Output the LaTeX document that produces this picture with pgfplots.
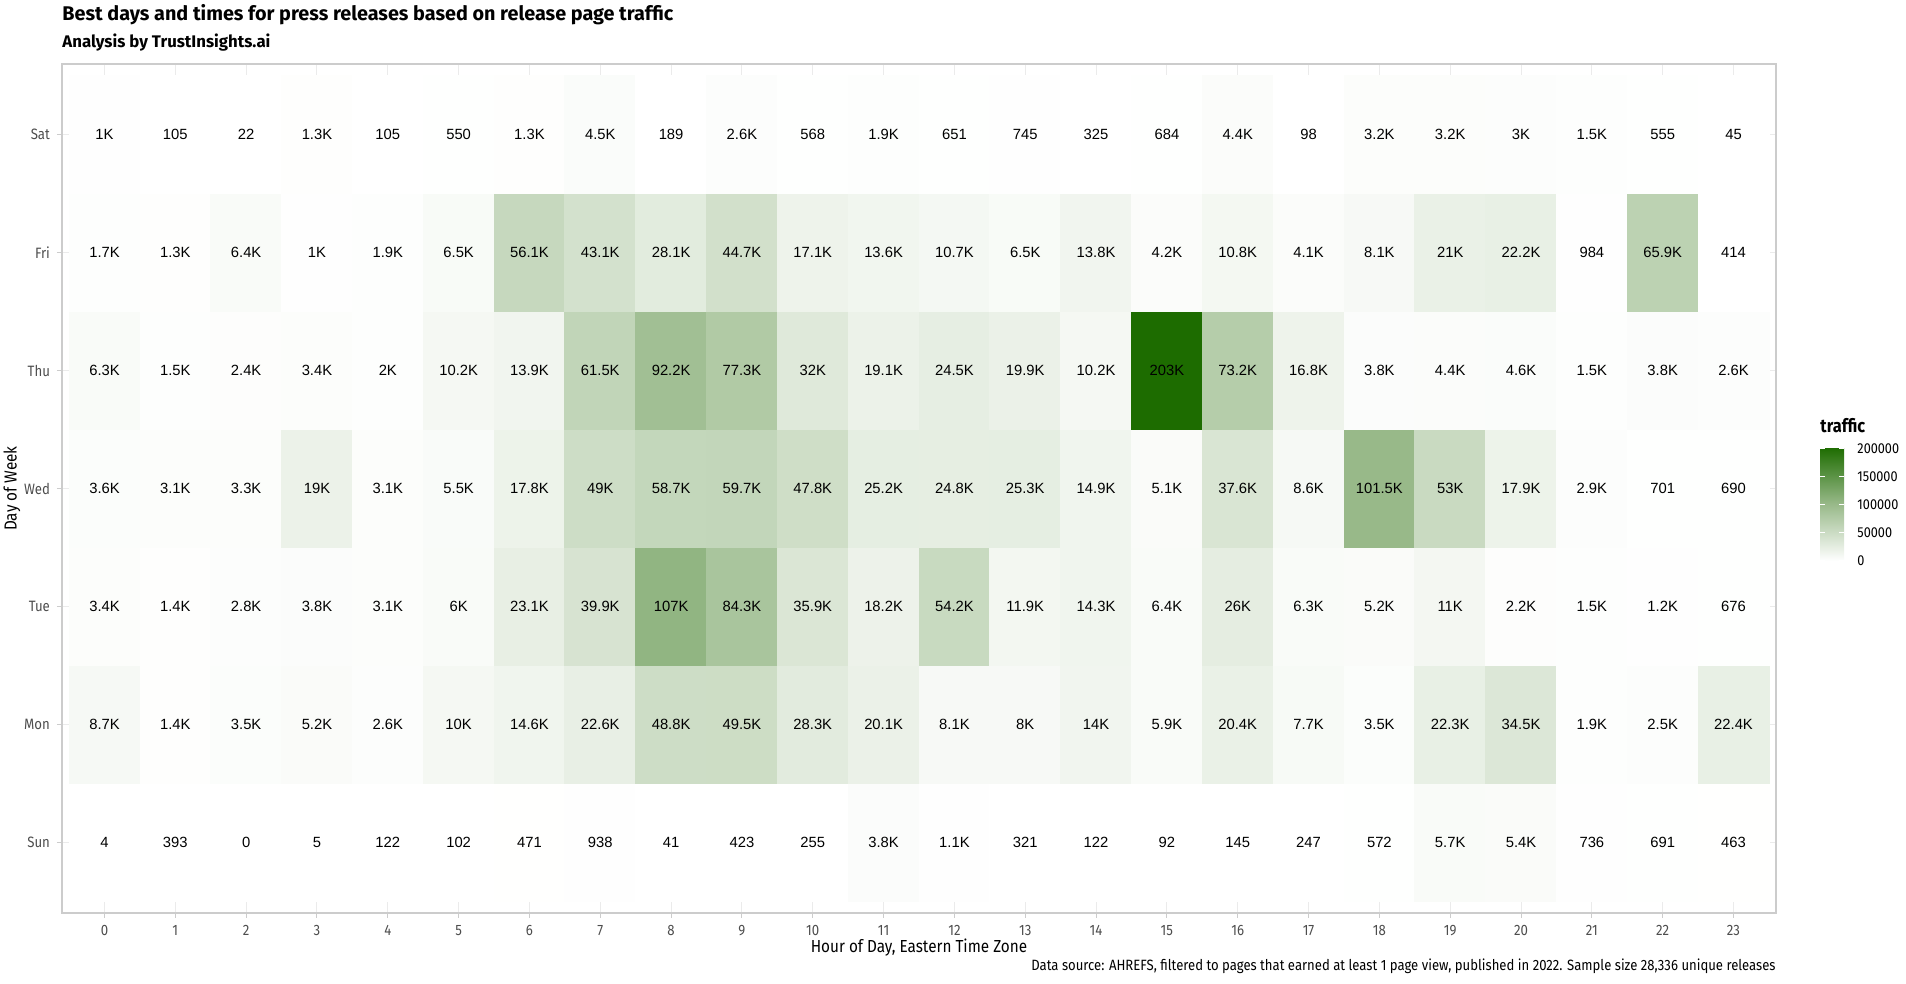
\documentclass[border=0pt]{standalone}
\usepackage{fontspec}
\setmainfont{Fira Sans}
\newfontfamily\barlow[FakeStretch=0.88]{Fira Sans}
\newfontfamily\barlowtitle{Fira Sans}
\newfontfamily\arial{Liberation Sans}
\usepackage{pgfplots}
\pgfplotsset{compat=1.18}
\usepackage{pgfplotstable}
\usetikzlibrary{calc}
\definecolor{tickgray}{HTML}{4D4D4D}

\pgfplotstableread{
x y z lab
0 0 4 4
1 0 393 393
2 0 0 0
3 0 5 5
4 0 122 122
5 0 102 102
6 0 471 471
7 0 938 938
8 0 41 41
9 0 423 423
10 0 255 255
11 0 3800 3.8K
12 0 1100 1.1K
13 0 321 321
14 0 122 122
15 0 92 92
16 0 145 145
17 0 247 247
18 0 572 572
19 0 5700 5.7K
20 0 5400 5.4K
21 0 736 736
22 0 691 691
23 0 463 463
0 1 8700 8.7K
1 1 1400 1.4K
2 1 3500 3.5K
3 1 5200 5.2K
4 1 2600 2.6K
5 1 10000 10K
6 1 14600 14.6K
7 1 22600 22.6K
8 1 48800 48.8K
9 1 49500 49.5K
10 1 28300 28.3K
11 1 20100 20.1K
12 1 8100 8.1K
13 1 8000 8K
14 1 14000 14K
15 1 5900 5.9K
16 1 20400 20.4K
17 1 7700 7.7K
18 1 3500 3.5K
19 1 22300 22.3K
20 1 34500 34.5K
21 1 1900 1.9K
22 1 2500 2.5K
23 1 22400 22.4K
0 2 3400 3.4K
1 2 1400 1.4K
2 2 2800 2.8K
3 2 3800 3.8K
4 2 3100 3.1K
5 2 6000 6K
6 2 23100 23.1K
7 2 39900 39.9K
8 2 107000 107K
9 2 84300 84.3K
10 2 35900 35.9K
11 2 18200 18.2K
12 2 54200 54.2K
13 2 11900 11.9K
14 2 14300 14.3K
15 2 6400 6.4K
16 2 26000 26K
17 2 6300 6.3K
18 2 5200 5.2K
19 2 11000 11K
20 2 2200 2.2K
21 2 1500 1.5K
22 2 1200 1.2K
23 2 676 676
0 3 3600 3.6K
1 3 3100 3.1K
2 3 3300 3.3K
3 3 19000 19K
4 3 3100 3.1K
5 3 5500 5.5K
6 3 17800 17.8K
7 3 49000 49K
8 3 58700 58.7K
9 3 59700 59.7K
10 3 47800 47.8K
11 3 25200 25.2K
12 3 24800 24.8K
13 3 25300 25.3K
14 3 14900 14.9K
15 3 5100 5.1K
16 3 37600 37.6K
17 3 8600 8.6K
18 3 101500 101.5K
19 3 53000 53K
20 3 17900 17.9K
21 3 2900 2.9K
22 3 701 701
23 3 690 690
0 4 6300 6.3K
1 4 1500 1.5K
2 4 2400 2.4K
3 4 3400 3.4K
4 4 2000 2K
5 4 10200 10.2K
6 4 13900 13.9K
7 4 61500 61.5K
8 4 92200 92.2K
9 4 77300 77.3K
10 4 32000 32K
11 4 19100 19.1K
12 4 24500 24.5K
13 4 19900 19.9K
14 4 10200 10.2K
15 4 203000 203K
16 4 73200 73.2K
17 4 16800 16.8K
18 4 3800 3.8K
19 4 4400 4.4K
20 4 4600 4.6K
21 4 1500 1.5K
22 4 3800 3.8K
23 4 2600 2.6K
0 5 1700 1.7K
1 5 1300 1.3K
2 5 6400 6.4K
3 5 1000 1K
4 5 1900 1.9K
5 5 6500 6.5K
6 5 56100 56.1K
7 5 43100 43.1K
8 5 28100 28.1K
9 5 44700 44.7K
10 5 17100 17.1K
11 5 13600 13.6K
12 5 10700 10.7K
13 5 6500 6.5K
14 5 13800 13.8K
15 5 4200 4.2K
16 5 10800 10.8K
17 5 4100 4.1K
18 5 8100 8.1K
19 5 21000 21K
20 5 22200 22.2K
21 5 984 984
22 5 65900 65.9K
23 5 414 414
0 6 1000 1K
1 6 105 105
2 6 22 22
3 6 1300 1.3K
4 6 105 105
5 6 550 550
6 6 1300 1.3K
7 6 4500 4.5K
8 6 189 189
9 6 2600 2.6K
10 6 568 568
11 6 1900 1.9K
12 6 651 651
13 6 745 745
14 6 325 325
15 6 684 684
16 6 4400 4.4K
17 6 98 98
18 6 3200 3.2K
19 6 3200 3.2K
20 6 3000 3K
21 6 1500 1.5K
22 6 555 555
23 6 45 45
}\traffic

\begin{document}
\begin{tikzpicture}
\begin{axis}[
  at={(0,0)}, anchor=south west,
  scale only axis, width=857pt, height=424.5pt,
  xmin=-0.6, xmax=23.6, ymin=-0.6, ymax=6.6,
  xtick={0,...,23}, ytick={0,...,6},
  yticklabels={Sun,Mon,Tue,Wed,Thu,Fri,Sat},
  tick pos=left, tick align=outside, major tick length=2.5pt,
  tick style={black!20, line width=0.5pt},
  grid=major, major grid style={black!8, line width=0.5pt},
  axis line style={black!20, line width=0.6pt},
  ticklabel style={font=\barlow\fontsize{7.5}{9}\selectfont, text=tickgray},
  /pgf/number format/assume math mode=true,
  xlabel={Hour of Day, Eastern Time Zone}, ylabel={Day of Week},
  label style={font=\barlow\fontsize{8.7}{10}\selectfont, text=black},
  xlabel style={at={(axis description cs:0.5,-0.0471)}, anchor=base, inner sep=0pt},
  ylabel style={at={(axis description cs:-0.0292,0.5)}, anchor=center, inner sep=0pt},
  colormap={tg}{rgb255(0cm)=(255,255,255) rgb255(1cm)=(152,185,137) rgb255(2cm)=(29,108,0)},
  point meta min=0, point meta max=203000,
  colorbar,
  colorbar style={
    at={($(parent axis.south east)+(13.5pt,204.5pt)$)}, anchor=west,
    scale only axis, width=12pt, height=57pt,
    scaled y ticks=false,
    ytick={0,50000,100000,150000,200000},
    yticklabels={0,50000,100000,150000,200000},
    yticklabel pos=right,
    yticklabel style={font=\barlow\fontsize{7.2}{8}\selectfont, text=black, inner sep=0pt, xshift=6.5pt},
    title={traffic},
    title style={at={(0,1)}, anchor=base west, yshift=1pt, inner sep=0pt, font=\barlow\bfseries\fontsize{9.3}{10}\selectfont},
    axis line style={draw=none},
    tick align=inside, major tick length=2.4pt, tick style={white, line width=0.5pt},
  },
]
\addplot[matrix plot*, mesh/cols=24, mesh/rows=7, point meta=explicit]
  table[x=x, y=y, meta=z] {\traffic};
\addplot[only marks, mark=none, point meta=explicit symbolic, nodes near coords,
  nodes near coords style={anchor=center, inner sep=0pt, font=\arial\fontsize{7.4}{8}\selectfont, text=black}]
  table[x=x, y=y, meta=lab] {\traffic};
\end{axis}
\node[anchor=base west, inner sep=0pt, font=\barlowtitle\bfseries\fontsize{9.9}{11}\selectfont] at (0,446.2pt) {Best days and times for press releases based on release page traffic};
\node[anchor=base west, inner sep=0pt, font=\barlowtitle\bfseries\fontsize{8.4}{10}\selectfont] at (0,432.5pt) {Analysis by TrustInsights.ai};
\node[anchor=base east, inner sep=0pt, font=\barlow\fontsize{7.45}{8}\selectfont] at (857pt,-29pt) {Data source: AHREFS, filtered to pages that earned at least 1 page view, published in 2022. Sample size 28,336 unique releases};
\pgfresetboundingbox
\useasboundingbox (-31pt,-35.5pt) rectangle (922pt,456.5pt);
\end{tikzpicture}
\end{document}
